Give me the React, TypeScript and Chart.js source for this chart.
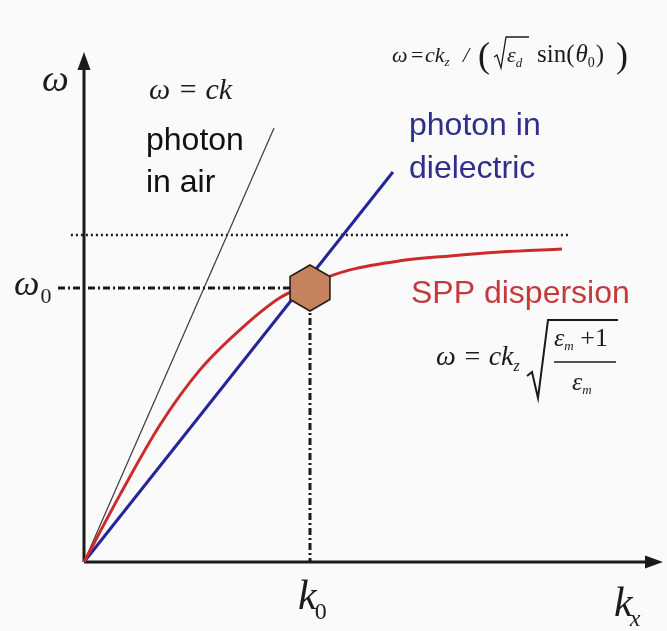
import React, { useEffect, useRef } from "react";
import { Chart, registerables } from "chart.js";

Chart.register(...registerables);

// Wave number k_x (units of k0) and frequency ω (units of ω0)
const kxAir = [0, 0.841];
const omegaAir = [0, 1.584];

const kxDielectric = [0, 1.367];
const omegaDielectric = [0, 1.423];

const kxSpp = [0, 0.159, 0.336, 0.513, 0.69, 0.867, 1.0, 1.177, 1.398, 1.619, 1.841, 2.115];
const omegaSpp = [0, 0.245, 0.5, 0.701, 0.847, 0.964, 1.015, 1.066, 1.099, 1.117, 1.131, 1.142];

// Surface-plasmon asymptote ω_sp
const kxAsymptote = [-0.058, 2.15];
const omegaAsymptote = [1.193, 1.193];

// Coupling point (k0, ω0)
const k0 = 1;
const omega0 = 1;
const omega0LineStart = -0.115;

const X_MIN = -0.2;
const X_MAX = 2.562;
const Y_MIN = -0.2;
const Y_MAX = 1.861;

const SERIF = '"Liberation Serif", "DejaVu Serif", serif';
const SANS = '"Liberation Sans", Arial, sans-serif';

const pts = (xs: number[], ys: number[]) => xs.map((x, i) => ({ x, y: ys[i] }));

function makeHexagon(): HTMLCanvasElement {
  const r = 24;
  const c = document.createElement("canvas");
  c.width = 48;
  c.height = 52;
  const g = c.getContext("2d")!;
  const cx = c.width / 2;
  const cy = c.height / 2;
  g.beginPath();
  for (let i = 0; i < 6; i++) {
    const a = -Math.PI / 2 + (i * Math.PI) / 3;
    const px = cx + (r - 1) * Math.cos(a);
    const py = cy + (r - 1) * Math.sin(a);
    if (i === 0) g.moveTo(px, py);
    else g.lineTo(px, py);
  }
  g.closePath();
  g.fillStyle = "#c4825f";
  g.fill();
  g.lineWidth = 1.6;
  g.strokeStyle = "#2a1d14";
  g.stroke();
  return c;
}

function text(ctx: CanvasRenderingContext2D, s: string, x: number, y: number, font: string, color = "#1b1b1b") {
  ctx.font = font;
  ctx.fillStyle = color;
  ctx.textAlign = "left";
  ctx.textBaseline = "alphabetic";
  ctx.fillText(s, x, y);
  return x + ctx.measureText(s).width;
}

const backgroundPlugin = {
  id: "paper",
  beforeDraw(chart: Chart) {
    const ctx = chart.ctx;
    ctx.save();
    ctx.fillStyle = "#fafafa";
    ctx.fillRect(0, 0, chart.width, chart.height);
    ctx.restore();
  },
};

const axesPlugin = {
  id: "arrowAxes",
  beforeDatasetsDraw(chart: Chart) {
    const ctx = chart.ctx;
    const xs = chart.scales.x;
    const ys = chart.scales.y;
    const ox = xs.getPixelForValue(0);
    const oy = ys.getPixelForValue(0);
    const top = ys.getPixelForValue(Y_MAX);
    const right = xs.getPixelForValue(X_MAX);
    ctx.save();
    ctx.strokeStyle = "#1a1a1a";
    ctx.fillStyle = "#1a1a1a";
    ctx.lineWidth = 3;
    ctx.beginPath();
    ctx.moveTo(ox, oy);
    ctx.lineTo(ox, top + 14);
    ctx.moveTo(ox, oy);
    ctx.lineTo(right - 14, oy);
    ctx.stroke();
    // arrow heads
    ctx.beginPath();
    ctx.moveTo(ox, top);
    ctx.lineTo(ox - 6.5, top + 18);
    ctx.lineTo(ox + 6.5, top + 18);
    ctx.closePath();
    ctx.fill();
    ctx.beginPath();
    ctx.moveTo(right, oy);
    ctx.lineTo(right - 18, oy - 6.5);
    ctx.lineTo(right - 18, oy + 6.5);
    ctx.closePath();
    ctx.fill();
    ctx.restore();
  },
};

const labelsPlugin = {
  id: "labels",
  afterDatasetsDraw(chart: Chart) {
    const ctx = chart.ctx;
    ctx.save();
    const it = (px: number) => `italic ${px}px ${SERIF}`;
    const up = (px: number) => `${px}px ${SERIF}`;

    // axis symbols
    text(ctx, "ω", 42, 91, it(38));
    let x = text(ctx, "ω", 14, 295, it(36));
    text(ctx, "0", x + 1, 303, up(22));
    x = text(ctx, "k", 298, 609, it(42));
    text(ctx, "0", x - 2, 619, up(24));
    x = text(ctx, "k", 614, 616, it(42));
    text(ctx, "x", x - 3, 626, it(24));

    // photon in air
    text(ctx, "ω = ck", 149, 99, it(30));
    text(ctx, "photon", 146, 150, `32px ${SANS}`, "#111111");
    text(ctx, "in air", 146, 192, `32px ${SANS}`, "#111111");

    // photon in dielectric
    const blue = "#2e2e8c";
    text(ctx, "photon in", 409, 135, `32px ${SANS}`, blue);
    text(ctx, "dielectric", 409, 178, `32px ${SANS}`, blue);

    // SPP dispersion
    text(ctx, "SPP dispersion", 411, 303, `32px ${SANS}`, "#c43a3c");

    // ω = ck_z / (√ε_d sin(θ0))
    ctx.strokeStyle = "#1b1b1b";
    text(ctx, "ω", 392, 62, it(22));
    text(ctx, "=", 411, 62, up(22));
    const fx = text(ctx, "ck", 425, 62, it(22));
    text(ctx, "z", fx, 66, it(13));
    text(ctx, "/", 463, 62, it(22));
    text(ctx, "(", 478, 67, up(36));
    ctx.lineWidth = 1.3;
    ctx.beginPath();
    ctx.moveTo(494, 57);
    ctx.lineTo(497, 55);
    ctx.lineTo(501, 68);
    ctx.lineTo(506, 37);
    ctx.lineTo(529, 37);
    ctx.stroke();
    const ex = text(ctx, "ε", 507, 62, it(22));
    text(ctx, "d", ex, 67, it(13));
    let sx2 = text(ctx, "sin(", 537, 62, up(25));
    sx2 = text(ctx, "θ", sx2 + 1, 62, it(25));
    sx2 = text(ctx, "0", sx2, 67, up(14));
    sx2 = text(ctx, ")", sx2 + 1, 62, up(25));
    text(ctx, ")", sx2 + 12, 67, up(36));

    // ω = ck_z √((ε_m + 1) / ε_m)
    const sx = text(ctx, "ω = ck", 436, 365, it(28));
    text(ctx, "z", sx, 371, it(16));
    ctx.lineWidth = 2;
    ctx.beginPath();
    ctx.moveTo(527, 376);
    ctx.lineTo(532, 372);
    ctx.lineTo(538, 398);
    ctx.lineTo(548, 320);
    ctx.lineTo(618, 320);
    ctx.stroke();
    const nx = text(ctx, "ε", 554, 346, it(26));
    text(ctx, "m", nx, 350, it(13));
    text(ctx, "+1", nx + 16, 346, up(26));
    ctx.lineWidth = 1.6;
    ctx.beginPath();
    ctx.moveTo(554, 362);
    ctx.lineTo(616, 362);
    ctx.stroke();
    const dx = text(ctx, "ε", 572, 390, it(26));
    text(ctx, "m", dx, 394, it(13));

    ctx.restore();
  },
};

export default function App() {
  const ref = useRef<HTMLCanvasElement>(null);

  useEffect(() => {
    if (!ref.current) return;
    const hexagon = makeHexagon();
    const chart = new Chart(ref.current, {
      type: "scatter",
      data: {
        datasets: [
          {
            label: "(k0, ω0)",
            data: [{ x: k0, y: omega0 }],
            pointStyle: hexagon,
            pointRadius: 24,
            showLine: false,
            order: 0,
          },
          {
            label: "photon in air",
            data: pts(kxAir, omegaAir),
            showLine: true,
            borderColor: "#3a3a3a",
            borderWidth: 1.2,
            pointRadius: 0,
            order: 5,
          },
          {
            label: "SPP dispersion",
            data: pts(kxSpp, omegaSpp),
            showLine: true,
            borderColor: "#cc2b2b",
            borderWidth: 3,
            pointRadius: 0,
            cubicInterpolationMode: "monotone",
            order: 3,
          },
          {
            label: "photon in dielectric",
            data: pts(kxDielectric, omegaDielectric),
            showLine: true,
            borderColor: "#25259a",
            borderWidth: 3,
            pointRadius: 0,
            order: 4,
          },
          {
            label: "ω_sp",
            data: pts(kxAsymptote, omegaAsymptote),
            showLine: true,
            borderColor: "#1a1a1a",
            borderWidth: 2.4,
            borderDash: [2, 3],
            pointRadius: 0,
            order: 6,
          },
          {
            label: "ω0",
            data: [
              { x: omega0LineStart, y: omega0 },
              { x: k0, y: omega0 },
            ],
            showLine: true,
            borderColor: "#1a1a1a",
            borderWidth: 3,
            borderDash: [7, 3, 2, 3],
            pointRadius: 0,
            order: 2,
          },
          {
            label: "k0",
            data: [
              { x: k0, y: omega0 },
              { x: k0, y: 0 },
            ],
            showLine: true,
            borderColor: "#1a1a1a",
            borderWidth: 3,
            borderDash: [7, 3, 2, 3],
            pointRadius: 0,
            order: 2,
          },
        ],
      },
      options: {
        animation: false,
        responsive: false,
        events: [],
        layout: { autoPadding: false, padding: { left: 38.8, right: 4, top: 52, bottom: 14.2 } },
        plugins: { legend: { display: false }, tooltip: { enabled: false }, title: { display: false } },
        scales: {
          x: { type: "linear", min: X_MIN, max: X_MAX, display: false },
          y: { type: "linear", min: Y_MIN, max: Y_MAX, display: false },
        },
        elements: { line: { tension: 0 } },
      },
      plugins: [backgroundPlugin, axesPlugin, labelsPlugin],
    });
    return () => chart.destroy();
  }, []);

  return (
    <div style={{ position: "absolute", left: 0, top: 0, width: 667, height: 631 }}>
      <canvas ref={ref} width={667} height={631} style={{ display: "block" }} />
    </div>
  );
}
